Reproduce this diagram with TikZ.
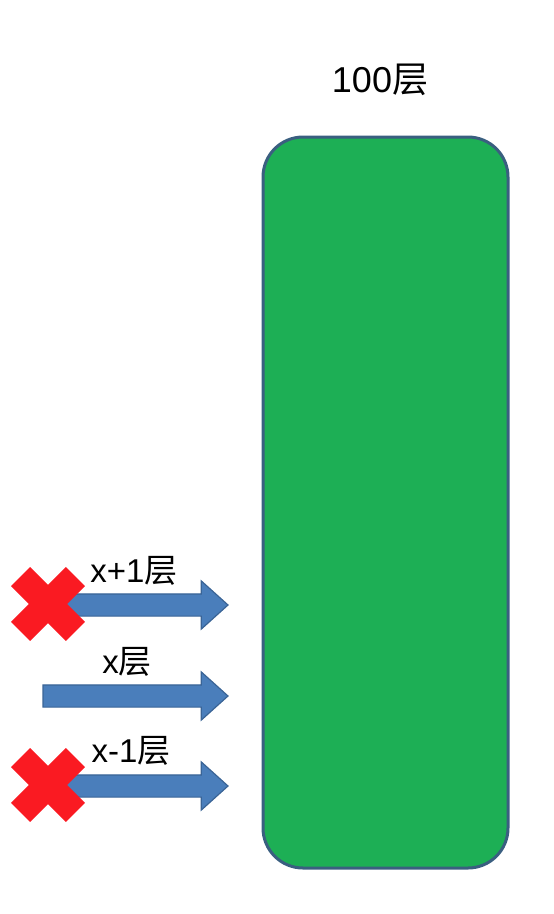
\documentclass[tikz,border=0pt]{standalone}
\usepackage{fontspec}
\setmainfont{Liberation Sans}
\newfontfamily\cjk{Noto Sans CJK SC}
\usetikzlibrary{shapes.arrows}
\definecolor{boxgreen}{HTML}{1DAF55}
\definecolor{boxedge}{HTML}{3A5F80}
\definecolor{arrowfill}{HTML}{4A7EBB}
\definecolor{arrowedge}{HTML}{3A6496}
\definecolor{xred}{HTML}{FA1A22}
\tikzset{
  floorbox/.style={draw=boxedge, fill=boxgreen, line width=3pt, rounded corners=40pt,
    minimum width=245pt, minimum height=731pt, inner sep=0pt},
  bluearrow/.style={single arrow, draw=arrowedge, fill=arrowfill, line width=1.2pt,
    minimum height=185pt, single arrow head extend=13pt, single arrow tip angle=84,
    inner xsep=0pt, inner ysep=10.5pt, anchor=tip, outer sep=0pt},
  biglabel/.style={font=\fontsize{36}{42}\selectfont, anchor=base, inner sep=0pt},
  label/.style={font=\fontsize{33}{40}\selectfont, anchor=base, inner sep=0pt},
  xmark/.style={draw=xred, line width=27pt, line cap=butt}
}
\begin{document}
\begin{tikzpicture}[x=1pt, y=-1pt]
\useasboundingbox (0,0) rectangle (554,914);
\node[floorbox] (box) at (385.5,502.5) {};
\node[biglabel] (top) at (380,92) {100{\cjk 层}};
\node[bluearrow] (a1) at (228,605) {};
\node[bluearrow] (a2) at (228,696) {};
\node[bluearrow] (a3) at (228,786) {};
\node[label] (l1) at (134,582) {x+1{\cjk 层}};
\node[label] (l2) at (127,673) {x{\cjk 层}};
\node[label] (l3) at (131,762) {x-1{\cjk 层}};
\coordinate (c1) at (48,604);
\coordinate (c3) at (48,785);
\foreach \c in {c1,c3}{
  \draw[xmark] (\c) ++(-27.4,-27.4) -- ++(54.8,54.8);
  \draw[xmark] (\c) ++(-27.4,27.4) -- ++(54.8,-54.8);
}
\end{tikzpicture}
\end{document}
